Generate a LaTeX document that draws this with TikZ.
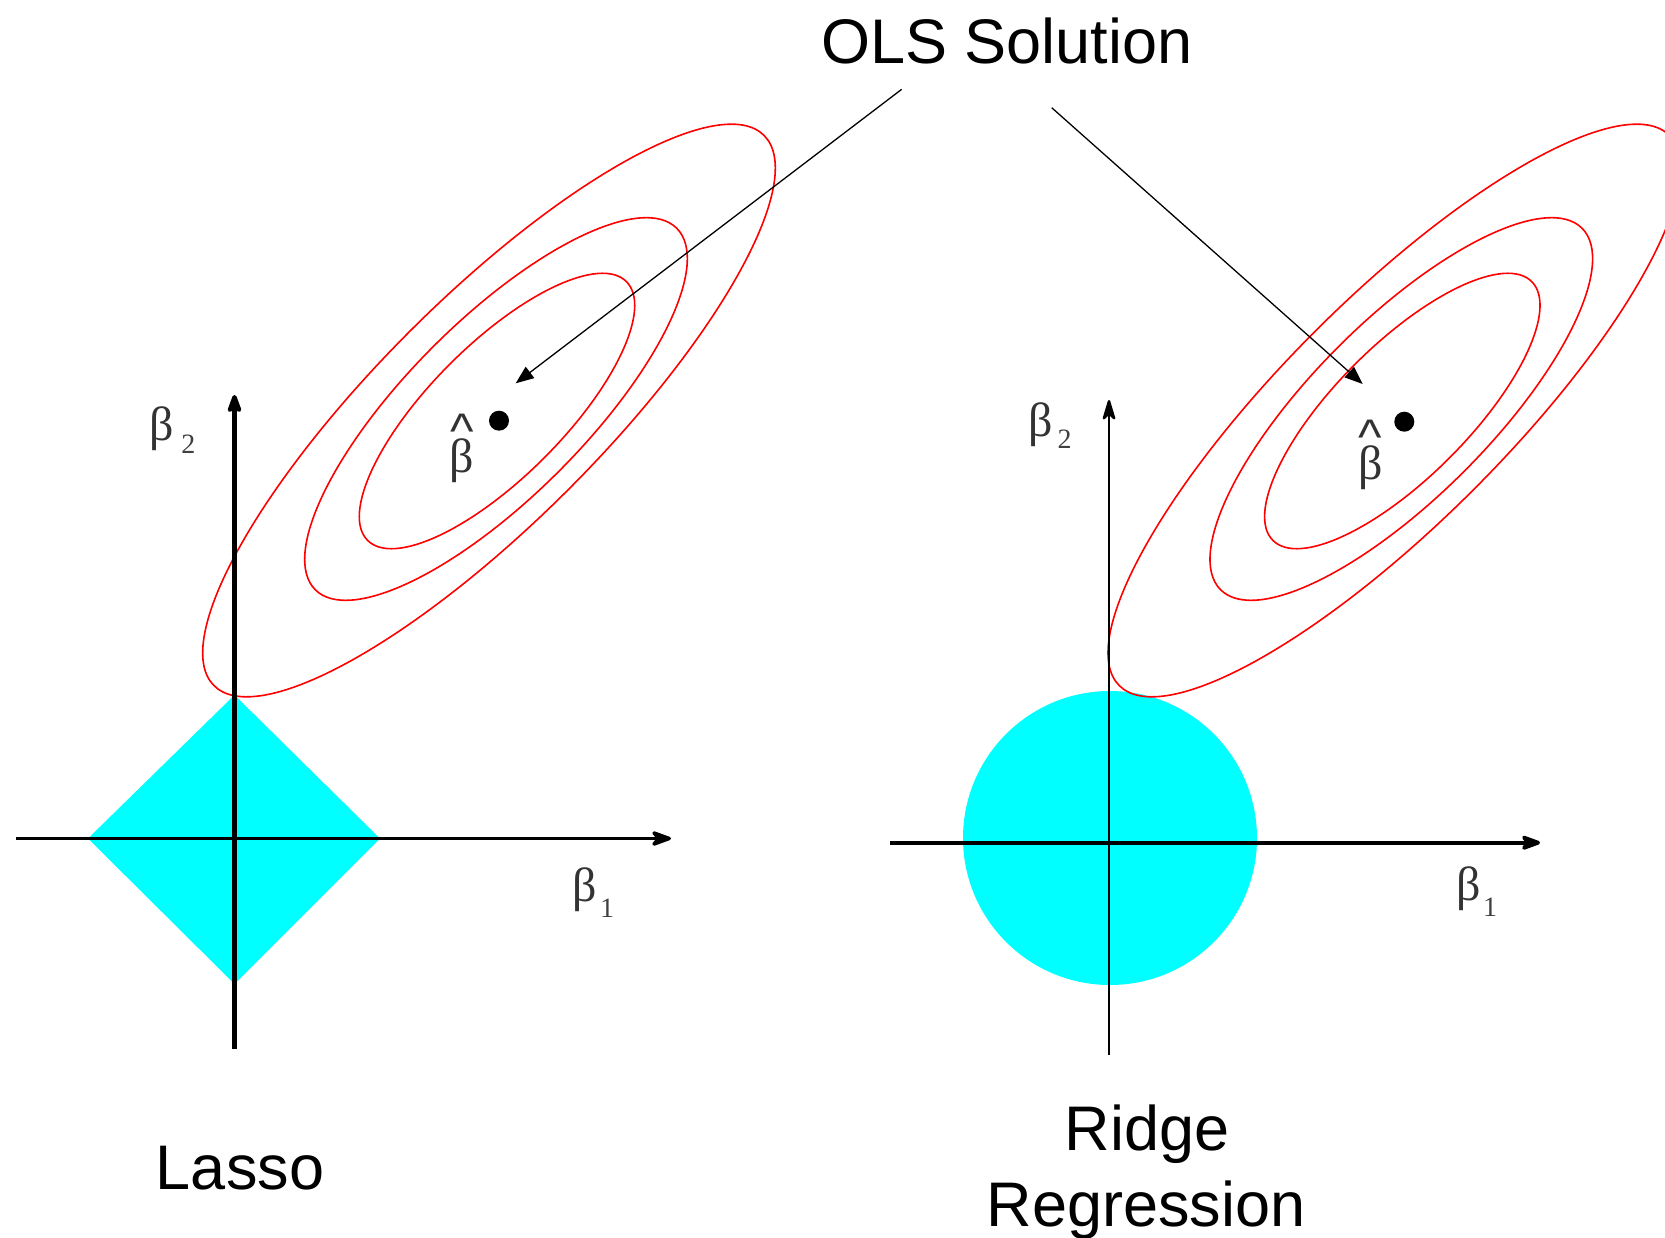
\documentclass[tikz,border=0pt]{standalone}
\usepackage{fontspec}
\setmainfont{Liberation Sans}
\newfontfamily\grk{Liberation Serif}
\usetikzlibrary{arrows.meta}
\definecolor{aqua}{RGB}{0,255,255}
\definecolor{contour}{RGB}{255,0,0}
% beta with a detached hat whose top lies #1 above the centre of the beta
\newcommand{\myhatbeta}[1]{%
  \setbox0\hbox{β}%
  \setbox1\hbox{\normalfont\fontsize{50}{50}\selectfont\textasciicircum}%
  \dimen0=\dimexpr #1 + (\ht0-\dp0)/2 - \ht1\relax
  \rlap{\makebox[\wd0]{\smash{\raisebox{\dimen0}{\copy1}}}}\box0}
\begin{document}
\begin{tikzpicture}[x=1pt,y=-1pt,
  lbl/.style={font=\fontsize{63}{70}\selectfont, inner sep=0pt, anchor=base},
  grkb/.style={font=\grk\fontsize{48}{50}\selectfont, inner sep=0pt, text=black!80},
  sublbl/.style={font=\grk\fontsize{28}{30}\selectfont, inner sep=0pt, text=black!75},
  contourline/.style={draw=contour, line width=1.6pt},
  olsarrow/.style={line width=1.3pt, -{Triangle[length=18pt,width=14pt]}},
  axistip/.style={-{Stealth[length=25pt,width=18pt,inset=7pt,round]}},
  axistipthin/.style={-{Stealth[length=25pt,width=15pt,inset=7pt,round]}}
]
\useasboundingbox (0,0) rectangle (1665,1238);
\clip (0,0) rectangle (1665,1238);

% constraint regions
\fill[aqua] (234.5,695) -- (380,838.5) -- (234.5,984) -- (88,838.5) -- cycle;
\fill[aqua] (1110,838) circle (147);

% contours
\foreach \dx in {0,905.3} {
  \begin{scope}[xshift=\dx pt]
    \draw[contourline, rotate around={45:(497,411)}] (497,411) ellipse (183 and 66.5);
    \draw[contourline, rotate around={45:(496,409)}] (496,409) ellipse (255.6 and 88.5);
    \draw[contourline, rotate around={45:(489,410.5)}] (489,410.5) ellipse (389 and 112);
  \end{scope}
}

% axes
\coordinate (lvB) at (234.5,1049); \coordinate (lvT) at (234.5,395);
\coordinate (lhL) at (16,838.5);   \coordinate (lhR) at (671,838.5);
\coordinate (rvB) at (1109,1054.5); \coordinate (rvT) at (1109,400);
\coordinate (rhL) at (890,842.7);  \coordinate (rhR) at (1540,842.7);
\draw[line width=4.3pt, axistip] (lvB) -- (lvT);
\draw[line width=3.4pt, axistip] (lhL) -- (lhR);
\draw[line width=2.4pt, axistipthin] (rvB) -- (rvT);
\draw[line width=3.8pt, axistip] (rhL) -- (rhR);

% OLS points
\fill (499,420.7) circle (10);
\fill (1404.3,421.7) circle (10);

% labels
\node[grkb] (b2L) at (161.5,429.2) {β};
\node[sublbl] (s2L) at (188.3,444) {2};
\node[grkb] (b1L) at (585,890) {β};
\node[sublbl] (s1L) at (607,908) {1};
\node[grkb] (b2R) at (1040.5,425) {β};
\node[sublbl] (s2R) at (1064.5,439) {2};
\node[grkb] (b1R) at (1468.5,889) {β};
\node[sublbl] (s1R) at (1490,907) {1};
\node[grkb] (bhL) at (462,461) {\myhatbeta{47pt}};
\node[grkb] (bhR) at (1370.5,467.5) {\myhatbeta{47pt}};

\node[lbl] (ols) at (1007,63.3) {OLS Solution};
\node[lbl] (lasso) at (240,1189) {Lasso};
\node[lbl] (ridge) at (1147,1150) {Ridge};
\node[lbl] (regr) at (1146,1226.6) {Regression};

% arrows
\coordinate (olsL) at (901.7,89.3);  \coordinate (tipL) at (515.7,383.3);
\coordinate (olsR) at (1051.7,107.7); \coordinate (tipR) at (1362.7,384);
\draw[olsarrow] (olsL) -- (tipL);
\draw[olsarrow] (olsR) -- (tipR);
\end{tikzpicture}
\end{document}
